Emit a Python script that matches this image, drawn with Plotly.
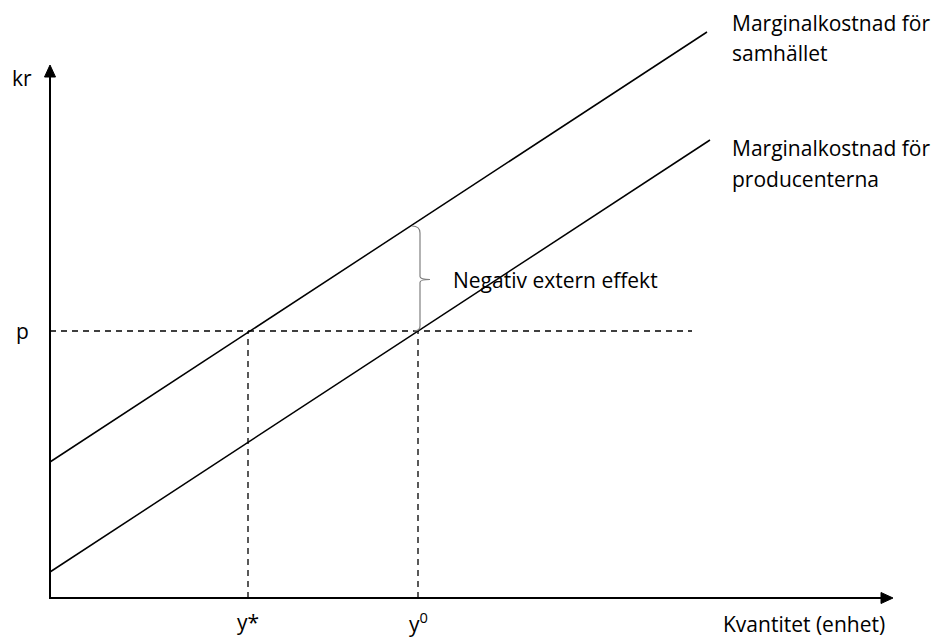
import plotly.graph_objects as go

# Data (abstract units: quantity on x, kr on y; origin at axes crossing)
mc_producer_x = [0, 660]
mc_producer_y = [26, 458]
mc_social_x = [0, 657]
mc_social_y = [136, 566]
p_level = 267
p_line_end = 642
y_star = 198
y_zero = 368
brace_top = 370
x_axis_end = 843
y_axis_end = 533

social_lines = ["Marginalkostnad för", "samhället"]
producer_lines = ["Marginalkostnad för", "producenterna"]
external_label = "Negativ extern effekt"
x_title = "Kvantitet (enhet)"
y_title = "kr"
p_label = "p"
y_star_label = "y*"
y_zero_label = "y<sup>0</sup>"

FONT = "Open Sans"
fig = go.Figure()

fig.add_trace(go.Scatter(x=mc_social_x, y=mc_social_y, mode="lines",
                         line=dict(color="black", width=1.5), hoverinfo="skip"))
fig.add_trace(go.Scatter(x=mc_producer_x, y=mc_producer_y, mode="lines",
                         line=dict(color="black", width=1.5), hoverinfo="skip"))

# dashed guides
dash = dict(color="black", width=1.3, dash="6px,5px")
fig.add_trace(go.Scatter(x=[0, p_line_end], y=[p_level, p_level], mode="lines",
                         line=dash, hoverinfo="skip"))
fig.add_trace(go.Scatter(x=[y_star, y_star], y=[0, p_level], mode="lines",
                         line=dash, hoverinfo="skip"))
fig.add_trace(go.Scatter(x=[y_zero, y_zero], y=[0, p_level], mode="lines",
                         line=dash, hoverinfo="skip"))

# brace
mid = (p_level + brace_top) / 2
bx = y_zero
brace_path = (
    f"M {bx-6},{brace_top+2} Q {bx+2},{brace_top+2} {bx+2},{brace_top-5} "
    f"L {bx+2},{mid+3} Q {bx+2},{mid} {bx+12},{mid} "
    f"Q {bx+2},{mid} {bx+2},{mid-3} "
    f"L {bx+2},{p_level+5} Q {bx+2},{p_level} {bx-4},{p_level}"
)
fig.add_shape(type="path", path=brace_path, xref="x", yref="y",
              line=dict(color="#808080", width=1.2))

# axes with arrowheads
fig.add_shape(type="line", x0=0, y0=0, x1=x_axis_end - 10, y1=0, xref="x", yref="y",
              line=dict(color="black", width=2))
fig.add_shape(type="line", x0=0, y0=-1, x1=0, y1=y_axis_end - 10, xref="x", yref="y",
              line=dict(color="black", width=2))
fig.add_shape(type="path", xref="x", yref="y",
              path=f"M {x_axis_end},0 L {x_axis_end-12},5.5 L {x_axis_end-12},-5.5 Z",
              fillcolor="black", line=dict(color="black", width=1))
fig.add_shape(type="path", xref="x", yref="y",
              path=f"M 0,{y_axis_end} L -5.5,{y_axis_end-12} L 5.5,{y_axis_end-12} Z",
              fillcolor="black", line=dict(color="black", width=1))

tf = dict(family=FONT, size=21, color="black")


def label(x, y, text, xanchor="left"):
    fig.add_annotation(x=x, y=y, xref="x", yref="y", text=text, showarrow=False,
                       xanchor=xanchor, yanchor="middle", align="left", font=tf)


label(680, 575, social_lines[0])
label(680, 545, social_lines[1])
label(680, 450, producer_lines[0])
label(680, 419, producer_lines[1])
label(401, mid, external_label)
label(-28, 520, y_title, "center")
label(-28, p_level, p_label, "center")
label(y_star, -24, y_star_label, "center")
label(y_zero, -24, y_zero_label, "center")
label(837, -26, x_title, "right")

fig.update_layout(
    width=931, height=639,
    margin=dict(l=0, r=0, t=0, b=0),
    paper_bgcolor="white", plot_bgcolor="white",
    showlegend=False,
    xaxis=dict(range=[-50, 881], visible=False, fixedrange=True),
    yaxis=dict(range=[-41, 598], visible=False, fixedrange=True),
)

fig.write_html(
    "out.html",
    config={"displayModeBar": False},
    post_script="document.body.style.margin='0';document.body.style.overflow='hidden';",
)
